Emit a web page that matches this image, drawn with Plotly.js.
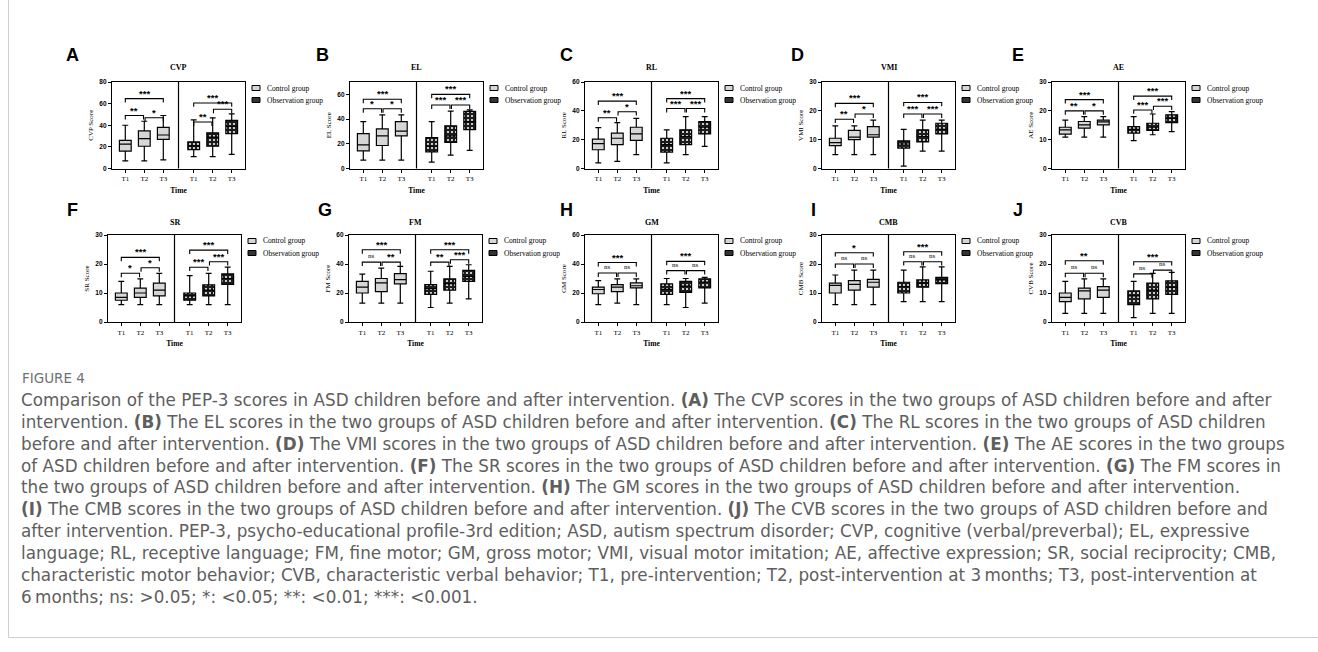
<!DOCTYPE html>
<html><head><meta charset="utf-8">
<script src="https://cdn.plot.ly/plotly-3.0.1.min.js"></script>
<style>html,body{margin:0;padding:0;background:#fff}#chart{width:1318px;height:652px}</style>
</head><body><div id="chart"></div>
<script>
// ---------------- DATA ----------------
const panelNames   = ['CVP','EL','RL','VMI','AE','SR','FM','GM','CMB','CVB'];
const panelLetters = ['A','B','C','D','E','F','G','H','I','J'];
const timeLabels   = ['T1','T2','T3'];
const groupNames   = ['Control group','Observation group'];
const yMax  = [80,70,60,30,30,30,60,60,30,30];
const yStep = [20,20,20,10,10,10,20,20,10,10];

// Control group box statistics [T1,T2,T3] per panel
const ctrlMin = [[7,7,8],[6.7,6.7,6.7],[3.9,5,9.6],[4.8,4.8,4.8],[10.9,10.9,10.9],[6,6,6],[13,13,13],[12,13,12],[6,6,6],[3,3,3]];
const ctrlQ1  = [[16,20.6,27],[14.2,18.6,26.4],[13,16.5,19.5],[7.9,10,10.9],[11.9,14,15.1],[7.5,8.5,9],[20,21,26.3],[19.5,21,23.5],[10,11,12],[7,8,8.5]];
const ctrlMed = [[22.5,27.7,31],[19.1,26.4,30.2],[17.2,21,24],[9,10.9,11.7],[13.4,15.1,16.2],[8.5,10,11],[24,27,29.2],[22.4,24,25],[12.6,13,13.7],[8.5,10.7,11]];
const ctrlQ3  = [[26,34.8,38],[28.2,32,38],[20.4,24.5,28.6],[10.5,13.2,14.5],[14.3,16.3,16.8],[10,11.7,13.4],[28,30,33.3],[24,25.8,27],[13.4,14.3,14.7],[10,11.7,12.2]];
const ctrlMax = [[40,43.7,49],[38,43.4,43.4],[28.4,31.8,34.8],[14.8,14.8,16.8],[16.8,18,18],[14,14.9,16.8],[33,37.2,38.4],[28.5,29.7,29.7],[16.2,17.9,17.9],[14,14.9,14.9]];

// Observation group box statistics [T1,T2,T3] per panel
const obsMin = [[11,11,13],[5.2,10.9,14.7],[3.9,9.6,15.3],[0.8,6,6],[9.7,11.7,12.8],[6,6,6],[10,13,16],[12,10,13],[7,7,7],[1.5,3,3]];
const obsQ1  = [[17.5,20.6,32.3],[13.4,21.2,31.5],[11.4,16.5,24],[7.1,9.2,12],[12.3,13.2,15.9],[7.5,9,13],[19,22,28],[19,20.5,23.5],[10,12,13.2],[6,8,9.5]];
const obsMed = [[21,29,39],[18,26.4,38],[16.5,22.2,28.6],[8.5,11.1,13.6],[13.6,14.3,17.4],[9,11,15],[23,26.5,31.5],[22.5,24.7,27.6],[12.2,13.4,14.5],[9,11,12]];
const obsQ3  = [[24.6,33,44.6],[25,34.6,46.3],[21,26.8,32.5],[9.6,13.4,15.7],[14.5,15.7,18.6],[10,12.8,16.6],[25.8,29.7,35.6],[26.3,28,29.7],[13.7,14.5,15.4],[10.7,13.4,14.2]];
const obsMax = [[45,46.8,50.5],[38,46.5,47.5],[26.8,36,36],[13.6,16.8,16.8],[18,18.9,19.7],[16,16.8,18.9],[35,38.4,39.5],[30,30,30.8],[17.9,19,19],[14,16.8,17.1]];

// Significance brackets: order [T1-T3, T1-T2, T2-T3]
const ctrlSigY   = [[64.6,49,47],[56,48.3,48.3],[46.7,35.2,39.4],[22.6,17.1,18.9],[23.9,20,20],[22.3,16.8,18.7],[49.8,41.3,41.3],[41,33.8,33.8],[23.9,20,20],[21.1,16.8,16.8]];
const ctrlSigTxt = [['***','**','*'],['***','*','*'],['***','**','*'],['***','**','*'],['***','**','*'],['***','*','*'],['***','ns','**'],['***','ns','ns'],['*','ns','ns'],['**','ns','ns']];
const obsSigY    = [[60.6,43,54.8],[60,51.4,51.4],[48.5,41.6,41.6],[22.9,18.9,18.9],[25.1,20.3,21.6],[24.8,18.9,20.8],[49.8,41.3,42.9],[41.8,35.4,35.4],[24.2,20.8,20.8],[20.8,16.6,17.9]];
const obsSigTxt  = [['***','**','***'],['***','***','***'],['***','***','***'],['***','***','***'],['***','***','***'],['***','***','***'],['***','**','***'],['***','ns','ns'],['***','ns','ns'],['***','ns','ns']];

const figLabel = 'FIGURE 4';
const captionLines = [
 'Comparison of the PEP-3 scores in ASD children before and after intervention. <b>(A)</b> The CVP scores in the two groups of ASD children before and after',
 'intervention. <b>(B)</b> The EL scores in the two groups of ASD children before and after intervention. <b>(C)</b> The RL scores in the two groups of ASD children',
 'before and after intervention. <b>(D)</b> The VMI scores in the two groups of ASD children before and after intervention. <b>(E)</b> The AE scores in the two groups',
 'of ASD children before and after intervention. <b>(F)</b> The SR scores in the two groups of ASD children before and after intervention. <b>(G)</b> The FM scores in',
 'the two groups of ASD children before and after intervention. <b>(H)</b> The GM scores in the two groups of ASD children before and after intervention.',
 '<b>(I)</b> The CMB scores in the two groups of ASD children before and after intervention. <b>(J)</b> The CVB scores in the two groups of ASD children before and',
 'after intervention. PEP-3, psycho-educational profile-3rd edition; ASD, autism spectrum disorder; CVP, cognitive (verbal/preverbal); EL, expressive',
 'language; RL, receptive language; FM, fine motor; GM, gross motor; VMI, visual motor imitation; AE, affective expression; SR, social reciprocity; CMB,',
 'characteristic motor behavior; CVB, characteristic verbal behavior; T1, pre-intervention; T2, post-intervention at 3\u2009months; T3, post-intervention at',
 '6\u2009months; ns: >0.05; *: <0.05; **: <0.01; ***: <0.001.'
];

// ---------------- LAYOUT GEOMETRY ----------------
const W = 1318, H = 652;
const xPos = [1,2,3,4.6,5.6,6.6];
const xRange = [0.3,7.3];
const divX = 3.8;
const colLeft = [[112,350,585,822,1052],[108,349,585,822,1052]];
const plotW = 133;
const rowTop = [82,235], rowBot = [168.5,322];
const letterX = [72,322,566,797,1018,72,325,566,813,1018];
const letterY = [55,210];
const titleY = [68,222];
const legY = [[88,100],[241,253]];
const SERIF = 'Liberation Serif, Times New Roman, serif';
const SANS = 'Liberation Sans, Arial, sans-serif';
const CAP = 'DejaVu Sans, Open Sans, sans-serif';
const capSize = 16.8; // line pitch = 1.3 * size
const px = v => v / W, py = v => 1 - v / H;

const data = [], shapes = [], annotations = [];
const layout = {
  width: W, height: H, margin: {l:0, r:0, t:0, b:0},
  paper_bgcolor: '#fff', plot_bgcolor: 'rgba(0,0,0,0)',
  showlegend: false, barmode: 'overlay', boxmode: 'overlay',
  shapes, annotations
};

for (let i = 0; i < 10; i++) {
  const n = i + 1, sfx = n === 1 ? '' : String(n);
  const xa = 'x' + sfx, ya = 'y' + sfx;
  const row = i < 5 ? 0 : 1, col = i % 5;
  const left = colLeft[row][col], right = left + plotW;
  layout['xaxis' + sfx] = {
    domain: [px(left), px(right)], anchor: ya, range: xRange,
    tickmode: 'array', tickvals: xPos, ticktext: timeLabels.concat(timeLabels),
    ticks: 'outside', ticklen: 3, tickwidth: 1, tickcolor: '#000',
    showline: true, linecolor: '#000', linewidth: 1.2, mirror: true,
    showgrid: false, zeroline: false,
    tickfont: {family: SERIF, size: 7, color: '#000'},
    title: {text: 'Time', font: {family: SERIF, size: 7.5, color: '#000', weight: 'bold'}, standoff: 5}
  };
  layout['yaxis' + sfx] = {
    domain: [py(rowBot[row]), py(rowTop[row])], anchor: xa, range: [0, yMax[i]],
    tick0: 0, dtick: yStep[i],
    ticks: 'outside', ticklen: 3, tickwidth: 1, tickcolor: '#000',
    showline: true, linecolor: '#000', linewidth: 1.2, mirror: true,
    showgrid: false, zeroline: false,
    tickfont: {family: SANS, size: 6.5, color: '#000', weight: 'bold'},
    title: {text: panelNames[i] + ' Score', font: {family: SERIF, size: 7, color: '#000'}, standoff: 4}
  };

  // Observation group patterned fill (drawn below the box outlines)
  data.push({
    type: 'bar', xaxis: xa, yaxis: ya, x: xPos.slice(3), base: obsQ1[i],
    y: obsQ3[i].map((v, k) => v - obsQ1[i][k]), width: 0.62,
    marker: {color: '#1c1c1c', line: {width: 0},
      pattern: {shape: '.', bgcolor: '#1c1c1c', fgcolor: '#f4f4f4', size: 4, solidity: 0.22}},
    hoverinfo: 'skip', showlegend: false, name: groupNames[1]
  });
  // Control group boxes
  data.push({
    type: 'box', xaxis: xa, yaxis: ya, x: xPos.slice(0, 3),
    q1: ctrlQ1[i], median: ctrlMed[i], q3: ctrlQ3[i], lowerfence: ctrlMin[i], upperfence: ctrlMax[i],
    width: 0.62, whiskerwidth: 0.5, fillcolor: '#d6d6d6', line: {color: '#000', width: 1.2},
    boxpoints: false, hoverinfo: 'skip', showlegend: false, name: groupNames[0]
  });
  // Observation group box outlines
  data.push({
    type: 'box', xaxis: xa, yaxis: ya, x: xPos.slice(3),
    q1: obsQ1[i], median: obsMed[i], q3: obsQ3[i], lowerfence: obsMin[i], upperfence: obsMax[i],
    width: 0.62, whiskerwidth: 0.5, fillcolor: 'rgba(0,0,0,0)', line: {color: '#000', width: 1.2},
    boxpoints: false, hoverinfo: 'skip', showlegend: false, name: groupNames[1]
  });

  // divider between the two groups
  shapes.push({type: 'line', xref: xa, yref: ya + ' domain', x0: divX, x1: divX, y0: 0, y1: 1,
    line: {color: '#000', width: 1.2}});

  // significance brackets
  const leg = yMax[i] * 0.045;
  const pairs = [[0, 2], [0, 1], [1, 2]];
  [[ctrlSigY, ctrlSigTxt, 0], [obsSigY, obsSigTxt, 3]].forEach(([sy, st, off]) => {
    pairs.forEach((p, k) => {
      let x1 = xPos[off + p[0]], x2 = xPos[off + p[1]];
      if (k === 1) x2 -= 0.04;
      if (k === 2) x1 += 0.04;
      const y = sy[i][k];
      shapes.push({type: 'path', xref: xa, yref: ya,
        path: `M${x1},${y - leg} L${x1},${y} L${x2},${y} L${x2},${y - leg}`,
        line: {color: '#000', width: 1.1}});
      const isNs = st[i][k] === 'ns';
      annotations.push({xref: xa, yref: ya, x: (x1 + x2) / 2, y: y, yanchor: 'bottom', xanchor: 'center',
        text: st[i][k], showarrow: false, yshift: isNs ? 0 : -2,
        font: isNs ? {family: SERIF, size: 7, color: '#000'} : {family: SANS, size: 9.5, color: '#000', weight: 'bold'}});
    });
  });

  // panel letter and title
  annotations.push({xref: 'paper', yref: 'paper', x: px(letterX[i]), y: py(letterY[row]), xanchor: 'center', yanchor: 'middle',
    text: panelLetters[i], showarrow: false, font: {family: SANS, size: 18, color: '#000', weight: 'bold'}});
  annotations.push({xref: 'paper', yref: 'paper', x: px((left + right) / 2), y: py(titleY[row]), xanchor: 'center', yanchor: 'middle',
    text: panelNames[i], showarrow: false, font: {family: SERIF, size: 8, color: '#000', weight: 'bold'}});

  // legend
  const lx = right + 7;
  [0, 1].forEach(g => {
    const cy = legY[row][g];
    shapes.push({type: 'rect', xref: 'paper', yref: 'paper', x0: px(lx), x1: px(lx + 8), y0: py(cy + 2.5), y1: py(cy - 2.5),
      fillcolor: g === 0 ? '#d6d6d6' : '#333', line: {color: '#000', width: 1}});
    annotations.push({xref: 'paper', yref: 'paper', x: px(lx + 13), y: py(cy), xanchor: 'left', yanchor: 'middle',
      text: groupNames[g], showarrow: false, font: {family: SERIF, size: 7.5, color: '#000'}});
  });
}

// caption
annotations.push({xref: 'paper', yref: 'paper', x: px(20), y: py(378), xanchor: 'left', yanchor: 'middle',
  text: figLabel, showarrow: false, font: {family: CAP, size: 13.5, color: '#707070'}});
annotations.push({xref: 'paper', yref: 'paper', x: px(19), y: py(388), xanchor: 'left', yanchor: 'top',
  text: captionLines.join('<br>'), showarrow: false, align: 'left',
  font: {family: CAP, size: capSize, color: '#5e5e5e'}});

// figure frame
shapes.push({type: 'line', xref: 'paper', yref: 'paper', x0: px(8.5), x1: px(8.5), y0: py(0), y1: py(637.5), line: {color: '#cfcfcf', width: 1}});
shapes.push({type: 'line', xref: 'paper', yref: 'paper', x0: px(8.5), x1: 1, y0: py(637.5), y1: py(637.5), line: {color: '#cfcfcf', width: 1}});

Plotly.newPlot('chart', data, layout, {staticPlot: true});
</script></body></html>
